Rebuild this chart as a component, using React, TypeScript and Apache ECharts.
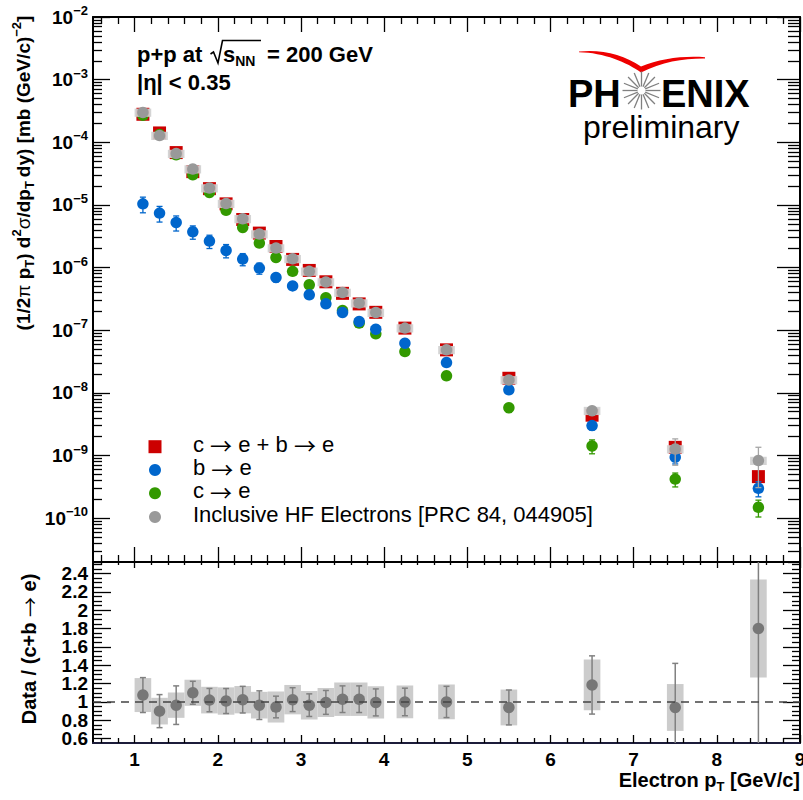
import React, { useEffect, useRef } from 'react';
import * as echarts from 'echarts';

// ---------------- data ----------------
const pT = [1.1, 1.3, 1.5, 1.7, 1.9, 2.1, 2.3, 2.5, 2.7, 2.9, 3.1, 3.3, 3.5, 3.7, 3.9, 4.25, 4.75, 5.5, 6.5, 7.5, 8.5];
// c->e + b->e (sum)
const cbSum = [2.8e-4, 1.41e-4, 6.85e-5, 3.4e-5, 1.82e-5, 1.04e-5, 5.85e-6, 3.55e-6, 2.17e-6, 1.35e-6, 9.0e-7, 5.93e-7, 3.88e-7, 2.63e-7, 1.93e-7, 1.08e-7, 4.86e-8, 1.71e-8, 4.4e-9, 1.35e-9, 4.6e-10];
// b->e
const bToE = [1.04e-5, 7.4e-6, 5.25e-6, 3.73e-6, 2.65e-6, 1.88e-6, 1.37e-6, 9.8e-7, 6.95e-7, 5.1e-7, 3.67e-7, 2.64e-7, 1.92e-7, 1.38e-7, 1.04e-7, 6.2e-8, 3.05e-8, 1.12e-8, 3.0e-9, 9.4e-10, 3.0e-10];
// c->e
const cToE = [2.7e-4, 1.33e-4, 6.3e-5, 3.03e-5, 1.58e-5, 8.2e-6, 4.37e-6, 2.46e-6, 1.45e-6, 8.7e-7, 5.3e-7, 3.3e-7, 2.07e-7, 1.3e-7, 8.75e-8, 4.57e-8, 1.87e-8, 5.8e-9, 1.42e-9, 4.2e-10, 1.49e-10];
// Inclusive HF electrons
const inclusive = [3.0e-4, 1.28e-4, 6.6e-5, 3.74e-5, 1.86e-5, 1.05e-5, 6.0e-6, 3.43e-6, 2.05e-6, 1.38e-6, 8.7e-7, 5.9e-7, 4.0e-7, 2.71e-7, 1.92e-7, 1.08e-7, 4.86e-8, 1.61e-8, 5.2e-9, 1.27e-9, 8.3e-10];
// relative errors (fractions)
const bRelErr = [0.28, 0.28, 0.27, 0.24, 0.24, 0.24, 0.22, 0.2, 0.15, 0.1, 0.1, 0.1, 0.1, 0.1, 0.1, 0.1, 0.1, 0.12, 0.15, 0.22, 0.27];
const cRelErr = [0.05, 0.05, 0.05, 0.05, 0.05, 0.05, 0.05, 0.05, 0.05, 0.05, 0.05, 0.05, 0.05, 0.08, 0.08, 0.1, 0.1, 0.16, 0.25, 0.25, 0.3];
const inclRelErr = [0.03, 0.03, 0.03, 0.03, 0.03, 0.03, 0.03, 0.03, 0.03, 0.03, 0.03, 0.03, 0.03, 0.03, 0.03, 0.04, 0.05, 0.08, 0.15, 0.45, 0.63];
const inclRelSys = [0.15, 0.15, 0.15, 0.15, 0.15, 0.15, 0.15, 0.15, 0.15, 0.15, 0.15, 0.15, 0.15, 0.15, 0.15, 0.15, 0.15, 0.15, 0.15, 0.15, 0.15];
// lower panel: Data / (c+b -> e)
const ratio = [1.075, 0.9, 0.965, 1.1, 1.02, 1.01, 1.025, 0.965, 0.945, 1.025, 0.965, 0.995, 1.03, 1.03, 0.995, 1.0, 1.0, 0.94, 1.185, 0.94, 1.8];
const ratioStat = [0.19, 0.18, 0.21, 0.125, 0.127, 0.136, 0.145, 0.156, 0.118, 0.13, 0.123, 0.13, 0.145, 0.145, 0.147, 0.15, 0.17, 0.19, 0.317, 0.48, 1.3];
const ratioSys = [0.185, 0.145, 0.138, 0.142, 0.145, 0.149, 0.149, 0.145, 0.169, 0.16, 0.155, 0.158, 0.182, 0.182, 0.176, 0.178, 0.189, 0.195, 0.276, 0.255, 0.533];
const boxHalfWidth = 0.1;

// ---------------- ticks ----------------
const xMajor = [1, 2, 3, 4, 5, 6, 7, 8, 9];
const xMinor: number[] = [];
for (let i = 3; i <= 44; i++) { if (i % 5 !== 0) xMinor.push(i * 0.2); }
const yDecades = [-10, -9, -8, -7, -6, -5, -4, -3, -2];
const yLogMinor: number[] = [];
for (let n = -11; n <= -3; n++) for (let k = 2; k <= 9; k++) {
  const v = n + Math.log10(k);
  if (v > -10.7 && v < -2) yLogMinor.push(v);
}
const rMajor = [0.6, 0.8, 1, 1.2, 1.4, 1.6, 1.8, 2, 2.2, 2.4];
const rLabelsA = [0.6, 1, 1.4, 1.8, 2.2];
const rLabelsB = [0.8, 1.2, 1.6, 2, 2.4];
const rMinor: number[] = [];
for (let i = 11; i <= 50; i++) { if (i % 4 !== 0) rMinor.push(i * 0.05); }

const FONT = '"Liberation Sans", Arial, Helvetica, sans-serif';
const ARROWFONT = '"Noto Sans CJK JP", "DejaVu Sans", sans-serif';
const LOGMIN = -10.7, LOGMAX = -2;
const RMIN = 0.553, RMAX = 2.524;

const tickStyle = { color: '#000', width: 1.3 };

function xAx(grid: number, pos: string, ticks: number[], len: number, line: boolean, label?: any) {
  return {
    type: 'value', gridIndex: grid, position: pos, min: 0.5, max: 9,
    axisLine: { show: line, onZero: false, lineStyle: { color: grid === 1 && pos === 'bottom' ? '#1c1c3a' : '#000', width: 2 } },
    axisTick: { show: true, inside: true, length: len, customValues: ticks, lineStyle: tickStyle },
    axisLabel: label || { show: false },
    splitLine: { show: false },
  };
}
function yAx(grid: number, pos: string, ticks: number[], len: number, line: boolean, label?: any) {
  return {
    type: 'value', gridIndex: grid, position: pos,
    min: grid === 0 ? LOGMIN : RMIN, max: grid === 0 ? LOGMAX : RMAX,
    axisLine: { show: line, onZero: false, lineStyle: { color: '#000', width: 2 } },
    axisTick: { show: len > 0, inside: true, length: len, customValues: ticks, lineStyle: tickStyle },
    axisLabel: label || { show: false },
    splitLine: { show: false },
  };
}
const ratioLabel = (vals: number[]) => ({
  show: true, customValues: vals, margin: 5, fontSize: 19, fontWeight: 'bold', fontFamily: FONT, color: '#000',
  showMinLabel: true, showMaxLabel: true, hideOverlap: false,
  formatter: (v: number) => String(Math.round(v * 10) / 10),
});

function errBars(color: string, cap: number, width: number) {
  return (params: any, api: any) => {
    const x = api.value(0);
    const a = api.coord([x, api.value(1)]);
    const b = api.coord([x, api.value(2)]);
    const st = { stroke: color, lineWidth: width };
    return {
      type: 'group',
      children: [
        { type: 'line', shape: { x1: a[0], y1: a[1], x2: b[0], y2: b[1] }, style: st },
        { type: 'line', shape: { x1: a[0] - cap, y1: a[1], x2: a[0] + cap, y2: a[1] }, style: st },
        { type: 'line', shape: { x1: b[0] - cap, y1: b[1], x2: b[0] + cap, y2: b[1] }, style: st },
      ],
    };
  };
}
function boxes(fill: string, opacity: number) {
  return (params: any, api: any) => {
    const x = api.value(0), w = api.value(3);
    const a = api.coord([x - w, api.value(1)]);
    const b = api.coord([x + w, api.value(2)]);
    return {
      type: 'rect',
      shape: { x: a[0], y: b[1], width: b[0] - a[0], height: a[1] - b[1] },
      style: { fill, opacity },
    };
  };
}

const logPts = (arr: number[]) => pT.map((x, i) => [x, Math.log10(arr[i])]);
const logErr = (arr: number[], rel: number[]) =>
  pT.map((x, i) => [x, Math.log10(arr[i] * (1 - rel[i])), Math.log10(arr[i] * (1 + rel[i]))]);

const swooshD = 'M579,51.5 C602,49 624,55 641,66.5 C660,58.5 684,55.5 705,57.2 L705,58.4 C684,58.2 662,61.5 641,72.5 C627,62.5 604,52.6 579,52.3 Z';

export default function App() {
  const ref = useRef<HTMLDivElement>(null);
  useEffect(() => {
    if (!ref.current) return;
    try { echarts.graphic.registerShape('phxSwoosh', echarts.graphic.extendPath(swooshD, {})); } catch (e) {}
    const chart = echarts.init(ref.current, undefined, { renderer: 'svg' });

    const rays: any[] = [];
    const cx = 641.5, cy = 90.5;
    for (let k = 0; k < 16; k++) {
      const t = (k * Math.PI) / 8;
      rays.push({
        type: 'line', z: 100,
        shape: { x1: cx + 4 * Math.cos(t), y1: cy + 4 * Math.sin(t), x2: cx + 19 * Math.cos(t), y2: cy + 19 * Math.sin(t) },
        style: { stroke: '#808080', lineWidth: 1.3 },
      });
    }

    const arrowRich = (size: number, weight: string) => ({
      a: { fontSize: size, fontFamily: ARROWFONT, fontWeight: weight, fill: '#000' },
    });

    const legendRows = [
      { label: 'c {a|→} e + b {a|→} e', color: '#cc0000', shape: 'rect', y: 446.7 },
      { label: 'b {a|→} e', color: '#0066cc', shape: 'circle', y: 470 },
      { label: 'c {a|→} e', color: '#339900', shape: 'circle', y: 493.3 },
      { label: 'Inclusive HF Electrons [PRC 84, 044905]', color: '#999999', shape: 'circle', y: 517 },
    ];
    const legendEls: any[] = [];
    legendRows.forEach((r) => {
      if (r.shape === 'rect') legendEls.push({ type: 'rect', z: 100, shape: { x: 155 - 6.5, y: r.y - 6.5, width: 13, height: 13 }, style: { fill: r.color } });
      else legendEls.push({ type: 'circle', z: 100, shape: { cx: 155, cy: r.y, r: 6 }, style: { fill: r.color } });
      legendEls.push({
        type: 'text', z: 100, x: 193, y: r.y - 2.5,
        style: { text: r.label, fontSize: 22, fontFamily: FONT, fill: '#000', verticalAlign: 'middle', align: 'left', rich: arrowRich(22, 'normal') },
      });
    });

    const option: any = {
      animation: false,
      backgroundColor: '#fff',
      grid: [
        { left: 93, top: 17, width: 707, height: 545, outerBoundsMode: 'none' },
        { left: 93, top: 562, width: 707, height: 181, outerBoundsMode: 'none' },
      ],
      xAxis: [
        xAx(0, 'bottom', xMajor, 15, true),
        xAx(0, 'bottom', xMinor, 7, false),
        xAx(0, 'top', xMajor, 15, true),
        xAx(0, 'top', xMinor, 7, false),
        xAx(1, 'bottom', xMajor, 8, true, {
          show: true, customValues: xMajor, margin: 7, fontSize: 19, fontWeight: 'bold', fontFamily: FONT, color: '#000',
          showMinLabel: true, showMaxLabel: true, hideOverlap: false,
          formatter: (v: number) => String(Math.round(v)),
        }),
        xAx(1, 'bottom', xMinor, 5, false),
        xAx(1, 'top', xMajor, 6, true),
        xAx(1, 'top', xMinor, 3, false),
      ],
      yAxis: [
        yAx(0, 'left', yDecades, 17, true, {
          show: true, customValues: yDecades, margin: 5, fontFamily: FONT, color: '#000',
          showMinLabel: true, showMaxLabel: true, hideOverlap: false,
          formatter: (v: number) => `{b|10}{s|−${Math.round(-v)}}`,
          rich: {
            b: { fontSize: 19, fontWeight: 'bold', fontFamily: FONT, lineHeight: 26, color: '#000' },
            s: { fontSize: 13, fontWeight: 'bold', fontFamily: FONT, lineHeight: 13, verticalAlign: 'top', color: '#000' },
          },
        }),
        yAx(0, 'left', yLogMinor, 9, false),
        yAx(0, 'right', yDecades, 23, true),
        yAx(0, 'right', yLogMinor, 12, false),
        yAx(1, 'left', rMajor, 18, true, ratioLabel(rLabelsA)),
        yAx(1, 'left', rMinor, 9, false, ratioLabel(rLabelsB)),
        yAx(1, 'right', rMajor, 17, true),
        yAx(1, 'right', rMinor, 8, false),
      ],
      series: [
        {
          name: 'c → e + b → e', type: 'scatter', xAxisIndex: 0, yAxisIndex: 0, z: 2,
          symbol: 'rect', symbolSize: 13, itemStyle: { color: '#cc0000', opacity: 1 }, data: logPts(cbSum),
        },
        {
          type: 'custom', xAxisIndex: 0, yAxisIndex: 0, z: 3, clip: true,
          renderItem: errBars('#339900', 3, 1.3), data: logErr(cToE, cRelErr),
        },
        {
          name: 'c → e', type: 'scatter', xAxisIndex: 0, yAxisIndex: 0, z: 4,
          symbol: 'circle', symbolSize: 11.5, itemStyle: { color: '#339900', opacity: 1 }, data: logPts(cToE),
        },
        {
          type: 'custom', xAxisIndex: 0, yAxisIndex: 0, z: 5, clip: true,
          renderItem: errBars('#0066cc', 3, 1.3), data: logErr(bToE, bRelErr),
        },
        {
          name: 'b → e', type: 'scatter', xAxisIndex: 0, yAxisIndex: 0, z: 6,
          symbol: 'circle', symbolSize: 11.5, itemStyle: { color: '#0066cc', opacity: 1 }, data: logPts(bToE),
        },
        {
          type: 'custom', xAxisIndex: 0, yAxisIndex: 0, z: 7, clip: true,
          renderItem: boxes('#cfcfcf', 0.9),
          data: pT.map((x, i) => [x, Math.log10(inclusive[i] * (1 - inclRelSys[i])), Math.log10(inclusive[i] * (1 + inclRelSys[i])), 0.1]),
        },
        {
          type: 'custom', xAxisIndex: 0, yAxisIndex: 0, z: 8, clip: true,
          renderItem: errBars('#a6a6a6', 3, 1.3), data: logErr(inclusive, inclRelErr),
        },
        {
          name: 'Inclusive HF Electrons [PRC 84, 044905]', type: 'scatter', xAxisIndex: 0, yAxisIndex: 0, z: 9,
          symbol: 'circle', symbolSize: 11.5, itemStyle: { color: '#999999', opacity: 1 }, data: logPts(inclusive),
        },
        // lower panel
        {
          type: 'custom', xAxisIndex: 4, yAxisIndex: 4, z: 2, clip: true,
          renderItem: boxes('#cccccc', 1),
          data: pT.map((x, i) => [x, ratio[i] - ratioSys[i], ratio[i] + ratioSys[i], boxHalfWidth]),
        },
        {
          type: 'custom', xAxisIndex: 4, yAxisIndex: 4, z: 3, clip: true,
          renderItem: errBars('#808080', 3, 1.5),
          data: pT.map((x, i) => [x, ratio[i] - ratioStat[i], ratio[i] + ratioStat[i]]),
        },
        {
          name: 'Data / (c+b → e)', type: 'scatter', xAxisIndex: 4, yAxisIndex: 4, z: 4,
          symbol: 'circle', symbolSize: 11.5, itemStyle: { color: '#777777', opacity: 1 },
          data: pT.map((x, i) => [x, ratio[i]]),
          markLine: {
            silent: true, symbol: 'none', label: { show: false },
            lineStyle: { color: '#444', width: 1.5, type: [8, 6] },
            data: [{ yAxis: 1 }],
          },
        },
      ],
      graphic: [
        // header text
        { type: 'text', z: 100, x: 137, y: 54.5, style: { text: 'p+p at', fontSize: 22, fontWeight: 'bold', fontFamily: FONT, fill: '#000', verticalAlign: 'middle' } },
        { type: 'polyline', z: 100, shape: { points: [[210.5, 54], [213.5, 52], [218, 63], [222.5, 40.5], [261, 40.5]] }, style: { stroke: '#000', lineWidth: 1.6, fill: null } },
        {
          type: 'text', z: 100, x: 223, y: 54.5,
          style: {
            text: 's{n|NN}', fontSize: 22, fontWeight: 'bold', fontFamily: FONT, fill: '#000', verticalAlign: 'middle', lineHeight: 26,
            rich: { n: { fontSize: 14, fontWeight: 'bold', fontFamily: FONT, lineHeight: 14, verticalAlign: 'bottom', fill: '#000' } },
          },
        },
        { type: 'text', z: 100, x: 267, y: 54.5, style: { text: '= 200 GeV', fontSize: 22, fontWeight: 'bold', fontFamily: FONT, fill: '#000', verticalAlign: 'middle' } },
        { type: 'text', z: 100, x: 137, y: 82.5, style: { text: '|η| < 0.35', fontSize: 22, fontWeight: 'bold', fontFamily: FONT, fill: '#000', verticalAlign: 'middle' } },
        // PHENIX logo
        { type: 'phxSwoosh', z: 100, x: 0, y: 0, style: { fill: '#ee0000' } },
        { type: 'text', z: 100, x: 568, y: 94, style: { text: 'PH', fontSize: 38, fontWeight: 'bold', fontFamily: FONT, fill: '#000', verticalAlign: 'middle' } },
        ...rays,
        { type: 'text', z: 100, x: 661, y: 94, style: { text: 'ENIX', fontSize: 38, fontWeight: 'bold', fontFamily: FONT, fill: '#000', verticalAlign: 'middle' } },
        { type: 'text', z: 100, x: 583, y: 127, style: { text: 'preliminary', fontSize: 32, fontFamily: FONT, fill: '#000', verticalAlign: 'middle' } },
        // legend
        ...legendEls,
        // axis titles
        {
          type: 'text', z: 100, x: 23, y: 173, rotation: Math.PI / 2,
          style: {
            text: '(1/2{g|π} p{u|T}) d{o|2}{g|σ}/dp{w|T}dy) [mb (GeV/c){o|−2}]',
            fontSize: 19, fontWeight: 'bold', fontFamily: FONT, fill: '#000', align: 'center', verticalAlign: 'middle', lineHeight: 26,
            rich: {
              g: { fontSize: 19, fontWeight: 'normal', fontFamily: FONT, lineHeight: 26, fill: '#000' },
              u: { fontSize: 13, fontWeight: 'bold', fontFamily: FONT, lineHeight: 13, verticalAlign: 'bottom', fill: '#000' },
              w: { fontSize: 13, fontWeight: 'bold', fontFamily: FONT, lineHeight: 13, verticalAlign: 'bottom', fill: '#000', padding: [0, 4, 0, 0] },
              o: { fontSize: 13, fontWeight: 'bold', fontFamily: FONT, lineHeight: 13, verticalAlign: 'top', fill: '#000' },
            },
          },
        },
        {
          type: 'text', z: 100, x: 29, y: 649, rotation: Math.PI / 2,
          style: {
            text: 'Data / (c+b {a|→} e)', fontSize: 20, fontWeight: 'bold', fontFamily: FONT, fill: '#000', align: 'center', verticalAlign: 'middle',
            rich: arrowRich(20, 'normal'),
          },
        },
        {
          type: 'text', z: 100, x: 800, y: 780,
          style: {
            text: 'Electron p{u|T} [GeV/c]', fontSize: 20, fontWeight: 'bold', fontFamily: FONT, fill: '#000', align: 'right', verticalAlign: 'middle', lineHeight: 26,
            rich: { u: { fontSize: 13, fontWeight: 'bold', fontFamily: FONT, lineHeight: 13, verticalAlign: 'bottom', fill: '#000' } },
          },
        },
      ],
    };
    chart.setOption(option);
    return () => chart.dispose();
  }, []);
  return <div ref={ref} style={{ width: 803, height: 800, position: 'absolute', left: 0, top: 0 }} />;
}
